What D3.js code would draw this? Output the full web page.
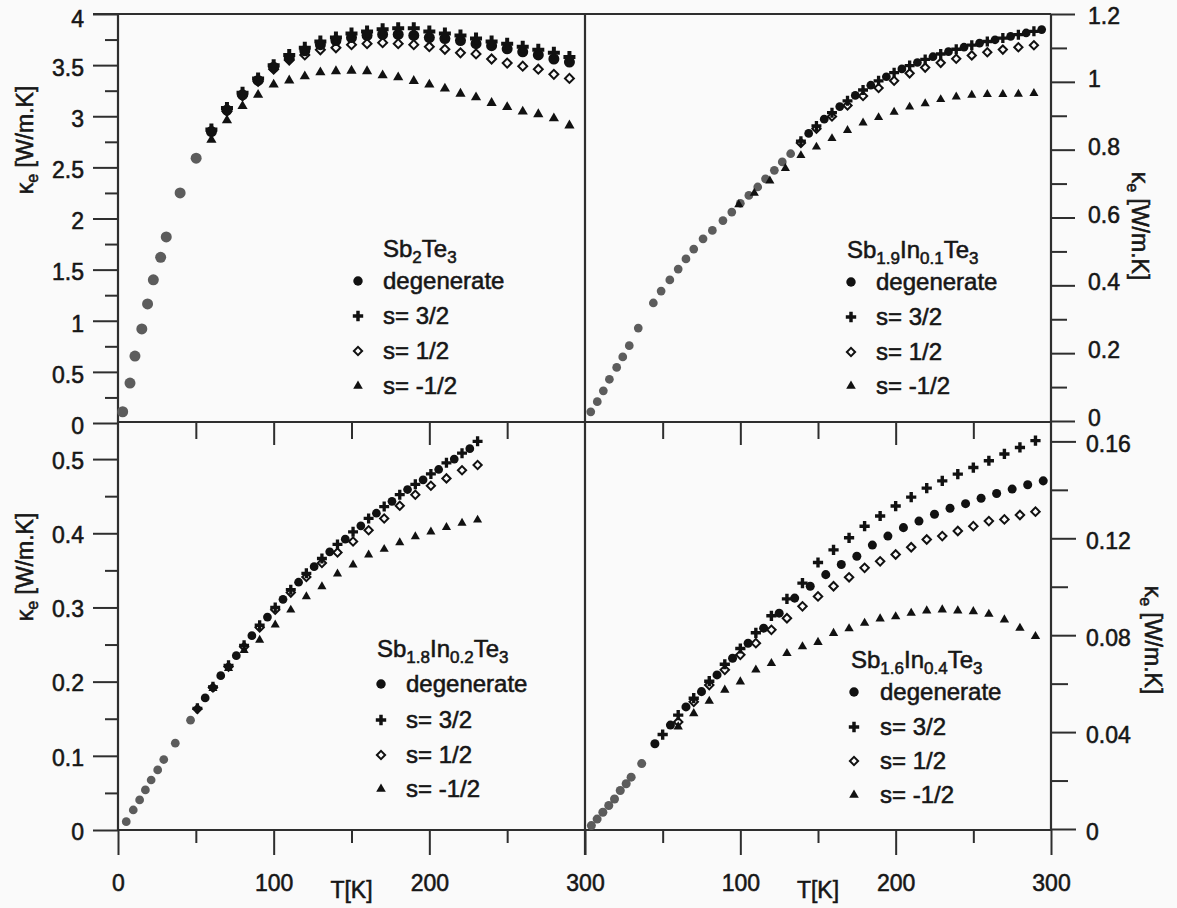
<!DOCTYPE html>
<html><head><meta charset="utf-8">
<script src="https://cdn.jsdelivr.net/npm/d3@7"></script>
<style>
body{margin:0;background:#fafafa}
svg{display:block}
text{font-family:"Liberation Sans",Arial,sans-serif;fill:#161616;stroke:#161616;stroke-width:0.55px}
</style>
</head><body>
<svg id="c" width="1177" height="908"></svg>
<script>
// ---------------- DATA ----------------
const seriesLabels = ["degenerate", "s= 3/2", "s= 1/2", "s= -1/2"];

// Top-left: Sb2Te3
const tlSharedT = [3, 7.7, 10.9, 15.3, 19, 22.7, 27.4, 31, 39.9, 50.2];
const tlSharedK = [0.11, 0.39, 0.655, 0.92, 1.164, 1.40, 1.62, 1.82, 2.25, 2.59];
const tlT = [60,70,80,90,100,110,120,130,140,150,160,170,180,190,200,210,220,230,240,250,260,270,280,290];
const tlDeg  = [2.85,3.06,3.21,3.35,3.48,3.57,3.64,3.70,3.74,3.77,3.79,3.80,3.80,3.79,3.77,3.76,3.74,3.71,3.69,3.66,3.63,3.60,3.56,3.53];
const tlS32  = [2.87,3.08,3.23,3.37,3.50,3.60,3.67,3.73,3.77,3.81,3.83,3.85,3.86,3.86,3.83,3.81,3.79,3.76,3.73,3.71,3.68,3.65,3.62,3.58];
const tlS12  = [2.85,3.05,3.20,3.34,3.46,3.55,3.60,3.65,3.67,3.70,3.71,3.72,3.71,3.70,3.68,3.655,3.62,3.61,3.56,3.52,3.49,3.46,3.41,3.37];
const tlSm12 = [2.77,2.96,3.10,3.21,3.31,3.35,3.39,3.43,3.44,3.445,3.44,3.40,3.38,3.345,3.31,3.27,3.22,3.185,3.13,3.09,3.045,3.02,2.98,2.91];

// Top-right: Sb1.9In0.1Te3
const trSharedT = [3.7,7.9,11.8,15.7,20.4,24.3,28.5,34.3,44,49,54.6,60,65,70,76,82,88.8,94.5,100,105.5,111.2,116.2,121.9,127,132.4];
const trSharedK = [0.027,0.057,0.089,0.123,0.158,0.189,0.222,0.274,0.348,0.383,0.416,0.448,0.478,0.507,0.537,0.562,0.591,0.616,0.642,0.665,0.690,0.714,0.739,0.764,0.788];
const trDegT = [144,154,164,174,184,194,204,214,224,234,244,254,264,274,284,294];
const trDeg  = [0.848,0.890,0.927,0.960,0.990,1.015,1.038,1.057,1.074,1.089,1.102,1.114,1.124,1.134,1.144,1.154];
const trT    = [139,149,159,169,179,189,199,209,219,229,239,249,259,269,279,289];
const trS32  = [0.825,0.870,0.909,0.944,0.976,1.003,1.027,1.048,1.066,1.082,1.096,1.108,1.119,1.129,1.139,1.149];
const trS12  = [0.820,0.862,0.898,0.930,0.958,0.982,1.003,1.025,1.042,1.056,1.068,1.078,1.087,1.095,1.102,1.108];
const trSm12T = [99,109,119,129,139,149,159,169,179,189,199,209,219,229,239,249,259,269,279,289];
const trSm12  = [0.638,0.672,0.708,0.745,0.783,0.808,0.833,0.857,0.879,0.895,0.911,0.926,0.936,0.948,0.956,0.961,0.963,0.963,0.964,0.966];

// Bottom-left: Sb1.8In0.2Te3
const blSharedT = [5.3,9.8,13.9,17.6,21.3,25.5,29.4,36.8,46.6];
const blSharedK = [0.0112,0.027,0.0405,0.054,0.0674,0.081,0.095,0.117,0.148];
const blDegT = [56,66,76,86,96,106,116,126,136,146,156,166,176,186,196,206,216,226];
const blDeg  = [0.178,0.208,0.235,0.262,0.287,0.311,0.334,0.355,0.375,0.392,0.410,0.427,0.443,0.459,0.472,0.486,0.500,0.514];
const blT    = [51,61,71,81,91,101,111,121,131,141,151,161,171,181,191,201,211,221,231];
const blS32  = [0.164,0.193,0.222,0.249,0.276,0.300,0.324,0.346,0.366,0.385,0.402,0.420,0.436,0.452,0.466,0.480,0.495,0.508,0.524];
const blS12  = [0.163,0.192,0.220,0.247,0.273,0.297,0.320,0.341,0.360,0.374,0.389,0.404,0.420,0.437,0.452,0.464,0.474,0.485,0.492];
const blSm12T = [61,71,81,91,101,111,121,131,141,151,161,171,181,191,201,211,221,231];
const blSm12  = [0.191,0.218,0.242,0.256,0.2765,0.2967,0.3147,0.3282,0.3453,0.3574,0.371,0.3786,0.3875,0.3956,0.402,0.408,0.4137,0.418];

// Bottom-right: Sb1.6In0.4Te3
const brSharedT = [4.1,7.8,11.5,15.3,19,22.7,26.5,29.7,36.5];
const brSharedK = [0.0014,0.0041,0.0069,0.0097,0.0124,0.0159,0.0187,0.0214,0.027];
const brDegT = [45,55,65,75,85,95,105,115,125,135,145,155,165,175,185,195,205,215,225,235,245,255,265,275,285,295];
const brDeg  = [0.0352,0.0429,0.0504,0.0567,0.0636,0.0705,0.0767,0.0829,0.0891,0.0953,0.1002,0.105,0.1092,0.1126,0.1172,0.1209,0.1244,0.1271,0.1299,0.1324,0.1343,0.1365,0.1385,0.1403,0.1421,0.1437];
const brS32T = [50,60,70,80,90,100,110,120,130,140,150,160,170,180,190,200,210,220,230,240,250,260,270,280,290];
const brS32  = [0.039,0.047,0.054,0.061,0.068,0.0745,0.081,0.088,0.095,0.1015,0.110,0.1152,0.1202,0.125,0.1292,0.1333,0.137,0.1407,0.1437,0.1465,0.1492,0.152,0.1548,0.1575,0.1603];
const brT    = [60,70,80,90,100,110,120,130,140,150,160,170,180,190,200,210,220,230,240,250,260,270,280,290];
const brS12  = [0.0442,0.0525,0.0594,0.0657,0.0719,0.0767,0.0822,0.087,0.0919,0.096,0.1002,0.1039,0.1078,0.1105,0.1133,0.1163,0.1195,0.1209,0.123,0.125,0.1271,0.1278,0.1296,0.131];
const brSm12 = [0.0422,0.0477,0.0528,0.0574,0.0608,0.0657,0.0684,0.0725,0.0753,0.0771,0.0808,0.0827,0.085,0.0868,0.0877,0.0891,0.0901,0.0905,0.0901,0.0898,0.0887,0.0864,0.0829,0.0795];

// Tick values and labels
const xMajorL = [0,100,200,300], xMajorLLabels = ["0","100","200","300"];
const xMajorR = [100,200,300],   xMajorRLabels = ["100","200","300"];
const xMinor = [50,150,250];
const tlTicks = [0,0.5,1,1.5,2,2.5,3,3.5,4], tlTickLabels = ["0","0.5","1","1.5","2","2.5","3","3.5","4"];
const tlMinor = [0.25,0.75,1.25,1.75,2.25,2.75,3.25,3.75];
const trTicks = [0,0.2,0.4,0.6,0.8,1,1.2], trTickLabels = ["0","0.2","0.4","0.6","0.8","1","1.2"];
const trMinor = [0.1,0.3,0.5,0.7,0.9,1.1];
const blTicks = [0,0.1,0.2,0.3,0.4,0.5], blTickLabels = ["0","0.1","0.2","0.3","0.4","0.5"];
const blMinor = [0.05,0.15,0.25,0.35,0.45];
const brTicks = [0,0.04,0.08,0.12,0.16], brTickLabels = ["0","0.04","0.08","0.12","0.16"];
const brMinor = [0.02,0.06,0.10,0.14];

// ---------------- DRAWING ----------------
const zip = (a,b) => a.map((t,i)=>[t,b[i]]);
const svg = d3.select('#c');
svg.append('rect').attr('width',1177).attr('height',908).attr('fill','#fafafa');

const X0=118, XM=585, X1=1051, Y0=14, YM=422, Y1=830;
const xL = d3.scaleLinear().domain([0,300]).range([X0,XM]);
const xR = d3.scaleLinear().domain([0,300]).range([XM,X1]);
const yTL = d3.scaleLinear().domain([0,4]).range([423,Y0]);
const yTR = d3.scaleLinear().domain([0,1.2]).range([421,Y0]);
const yBL = d3.scaleLinear().domain([0,0.55]).range([Y1,YM]);
const yBR = d3.scaleLinear().domain([0,0.168]).range([829,YM]);

const INK = '#2e2e2e';
const FONT = '"Liberation Sans",Arial,sans-serif';

function styleAxis(g, fs){
  g.select('.domain').remove();
  g.attr('font-size', fs).attr('font-family', FONT).attr('color', INK);
  g.selectAll('.tick line').attr('stroke-width', 2);
  g.selectAll('.tick text').attr('fill', '#161616');
}
function axisGroup(axis, tx, ty, fs){
  const g = svg.append('g').attr('transform', `translate(${tx},${ty})`).call(axis);
  styleAxis(g, fs||23);
  return g;
}

// Left axes
axisGroup(d3.axisLeft(yTL).tickValues(tlMinor).tickSize(13).tickFormat(''), X0, 0);
axisGroup(d3.axisLeft(yTL).tickValues(tlTicks).tickSize(25).tickPadding(9).tickFormat((d,i)=>tlTickLabels[i]), X0, 0)
  .selectAll('.tick text').attr('dy', d => d===4 ? '0.55em' : '0.45em');
axisGroup(d3.axisLeft(yBL).tickValues(blMinor).tickSize(13).tickFormat(''), X0, 0);
axisGroup(d3.axisLeft(yBL).tickValues(blTicks).tickSize(25).tickPadding(9).tickFormat((d,i)=>blTickLabels[i]), X0, 0)
  .selectAll('.tick text').attr('dy','0.4em');

// Right axes
axisGroup(d3.axisRight(yTR).tickValues(trMinor).tickSize(16).tickFormat(''), X1, 0);
axisGroup(d3.axisRight(yTR).tickValues(trTicks).tickSize(24).tickPadding(13).tickFormat((d,i)=>trTickLabels[i]), X1, 0)
  .selectAll('.tick text').attr('dy', d => d===1.2 ? '0.42em' : '0.2em');
axisGroup(d3.axisRight(yBR).tickValues(brMinor).tickSize(17).tickFormat(''), X1, 0);
axisGroup(d3.axisRight(yBR).tickValues(brTicks).tickSize(25).tickPadding(10).tickFormat((d,i)=>brTickLabels[i]), X1, 0)
  .selectAll('.tick text').attr('dy','0.45em');

// Bottom axes
axisGroup(d3.axisBottom(xL).tickValues(xMinor).tickSize(13).tickFormat(''), 0, Y1);
axisGroup(d3.axisBottom(xL).tickValues(xMajorL).tickSize(25).tickPadding(20).tickFormat((d,i)=>xMajorLLabels[i]), 0, Y1);
axisGroup(d3.axisBottom(xR).tickValues(xMinor).tickSize(13).tickFormat(''), 0, Y1);
axisGroup(d3.axisBottom(xR).tickValues(xMajorR).tickSize(25).tickPadding(20).tickFormat((d,i)=>xMajorRLabels[i]), 0, Y1);

// Middle (top panels' x axis) ticks pointing down
axisGroup(d3.axisBottom(xL).tickValues(xMinor).tickSize(17).tickFormat(''), 0, YM);
axisGroup(d3.axisBottom(xL).tickValues([100,200]).tickSize(23).tickFormat(''), 0, YM);
axisGroup(d3.axisBottom(xR).tickValues(xMinor).tickSize(17).tickFormat(''), 0, YM);
axisGroup(d3.axisBottom(xR).tickValues([100,200]).tickSize(23).tickFormat(''), 0, YM);

// Frame lines
const frame = svg.append('g').attr('stroke', INK).attr('stroke-width', 2.2).attr('fill','none');
frame.append('line').attr('x1',X0-25).attr('x2',X1).attr('y1',Y0).attr('y2',Y0);
frame.append('line').attr('x1',X0).attr('x2',X1).attr('y1',YM).attr('y2',YM);
frame.append('line').attr('x1',X0).attr('x2',X1).attr('y1',Y1).attr('y2',Y1);
frame.append('line').attr('x1',X0).attr('x2',X0).attr('y1',Y0).attr('y2',Y1);
frame.append('line').attr('x1',XM).attr('x2',XM).attr('y1',Y0).attr('y2',Y1+25);
frame.append('line').attr('x1',X1).attr('x2',X1).attr('y1',Y0).attr('y2',Y1);

// Markers
function sym(type, size){
  if(type==='circle') return d3.symbol(d3.symbolCircle, size)();
  if(type==='plus') return d3.symbol(d3.symbolCross, size)();
  if(type==='diamond') return d3.symbol(d3.symbolSquare, size)();
  if(type==='triangle') return d3.symbol(d3.symbolTriangle, size)();
}
function drawMarks(data, xs, ys, type, size, color){
  const g = svg.append('g');
  g.selectAll('path').data(data).join('path')
    .attr('d', sym(type, size))
    .attr('transform', d => `translate(${xs(d[0])},${ys(d[1])})` + (type==='diamond' ? ' rotate(45)' : ''))
    .attr('fill', type==='diamond' ? 'none' : color)
    .attr('stroke', type==='diamond' ? color : 'none')
    .attr('stroke-width', type==='diamond' ? 2 : 0);
}
const GRAY = '#5c5c5c', BLACK = '#111';

function panel(p){
  drawMarks(p.shared, p.xs, p.ys, 'circle', p.cs, GRAY);
  drawMarks(p.sm12, p.xs, p.ys, 'triangle', p.ts, BLACK);
  drawMarks(p.s12, p.xs, p.ys, 'diamond', p.ds, BLACK);
  drawMarks(p.deg, p.xs, p.ys, 'circle', p.cs, BLACK);
  drawMarks(p.s32, p.xs, p.ys, 'plus', p.ps, BLACK);
}
panel({xs:xL, ys:yTL, shared:zip(tlSharedT,tlSharedK), deg:zip(tlT,tlDeg), s32:zip(tlT,tlS32), s12:zip(tlT,tlS12), sm12:zip(tlT,tlSm12), cs:95, ps:80, ds:40, ts:45});
panel({xs:xR, ys:yTR, shared:zip(trSharedT,trSharedK), deg:zip(trDegT,trDeg), s32:zip(trT,trS32), s12:zip(trT,trS12), sm12:zip(trSm12T,trSm12), cs:60, ps:55, ds:34, ts:36});
panel({xs:xL, ys:yBL, shared:zip(blSharedT,blSharedK), deg:zip(blDegT,blDeg), s32:zip(blT,blS32), s12:zip(blT,blS12), sm12:zip(blSm12T,blSm12), cs:60, ps:55, ds:34, ts:36});
panel({xs:xR, ys:yBR, shared:zip(brSharedT,brSharedK), deg:zip(brDegT,brDeg), s32:zip(brS32T,brS32), s12:zip(brT,brS12), sm12:zip(brT,brSm12), cs:64, ps:58, ds:36, ts:38});

// Legends
function legend(titleParts, tx, ty, mx, lx, rows){
  const t = svg.append('text').attr('x',tx).attr('y',ty).attr('font-size',24);
  let shifted = false;
  titleParts.forEach(([s,sub])=>{
    const sp = t.append('tspan').text(s);
    if(sub){ sp.attr('font-size',17).attr('dy', 6); shifted = true; }
    else if(shifted){ sp.attr('dy', -6); shifted = false; }
  });
  const types = ['circle','plus','diamond','triangle'];
  const sizes = [70, 60, 34, 40];
  rows.forEach((by,i)=>{
    svg.append('path').attr('d', sym(types[i], sizes[i]))
      .attr('transform', `translate(${mx},${by-8})` + (types[i]==='diamond'?' rotate(45)':''))
      .attr('fill', types[i]==='diamond'?'none':BLACK)
      .attr('stroke', types[i]==='diamond'?BLACK:'none').attr('stroke-width',2);
    svg.append('text').attr('x',lx).attr('y',by).attr('font-size',24).text(seriesLabels[i]);
  });
}
legend([["Sb",0],["2",1],["Te",0],["3",1]], 383, 257, 358, 383, [289,324,359,394]);
legend([["Sb",0],["1.9",1],["In",0],["0.1",1],["Te",0],["3",1]], 847, 258, 851, 876, [290,325,360,394]);
legend([["Sb",0],["1.8",1],["In",0],["0.2",1],["Te",0],["3",1]], 377, 657, 381, 406, [692,728,763,797]);
legend([["Sb",0],["1.6",1],["In",0],["0.4",1],["Te",0],["3",1]], 851, 668, 854, 880, [700,735,769,803]);

// Axis titles
function yTitle(x, y, rot){
  const t = svg.append('text').attr('transform',`translate(${x},${y}) rotate(${rot})`)
    .attr('text-anchor','middle').attr('font-size',23);
  t.append('tspan').text('κ');
  t.append('tspan').attr('font-size',16).attr('dy',5).text('e');
  t.append('tspan').attr('dy',-5).text(' [W/m.K]');
}
yTitle(33, 140, -90);
yTitle(33, 567, -90);
yTitle(1132, 226, 90);
yTitle(1145, 640, 90);

svg.append('text').attr('x', xL(150)).attr('y', 898).attr('text-anchor','middle').attr('font-size',23).text('T[K]');
svg.append('text').attr('x', xR(150)).attr('y', 898).attr('text-anchor','middle').attr('font-size',23).text('T[K]');
</script>
</body></html>
